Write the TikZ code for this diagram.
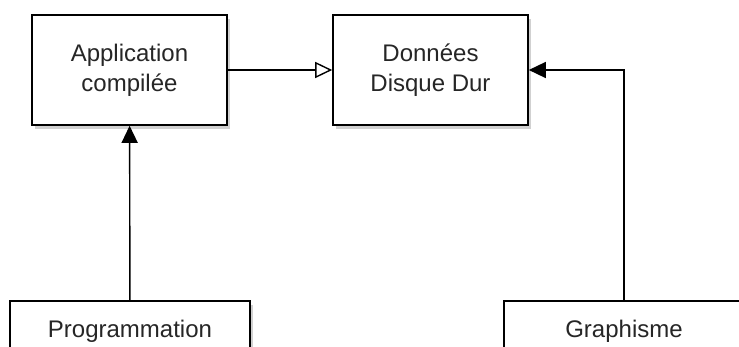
\documentclass[tikz,border=0pt]{standalone}
\usepackage{fontspec}
\setmainfont{Liberation Sans}
\usetikzlibrary{arrows.meta,shadows}

\begin{document}
\begin{tikzpicture}[x=1pt, y=-1pt,
  every node/.style = {shape=rectangle, draw, fill=white, line width=1.6pt,
    align=center, text=black!85, inner sep=0pt,
    font=\fontsize{24}{30}\selectfont,
    drop shadow={shadow xshift=3pt, shadow yshift=-4pt, opacity=0.3, fill=black!60}},
  bloc/.style = {minimum width=195pt, minimum height=110pt},
  source/.style = {minimum width=240pt, minimum height=60pt},
  lien/.style = {line width=1.4pt, draw=black}]
  \clip (0,0) rectangle (739,347);
  \node[bloc] (app) at (129.5,70) {Application\\compilée};
  \node[bloc] (data) at (430.5,70) {Données\\Disque Dur};
  \node[source] (prog) at (130,331) {Programmation};
  \node[source] (graph) at (624,331) {Graphisme};
  \draw[lien,-{Triangle[open,length=17pt,width=16pt]}] (app) -- (data);
  \draw[lien,-{Triangle[length=17pt,width=16pt]}] (prog) -- (app);
  \draw[lien,-{Triangle[length=17pt,width=16pt]}] (graph.north) |- (data.east);
\end{tikzpicture}
\end{document}
